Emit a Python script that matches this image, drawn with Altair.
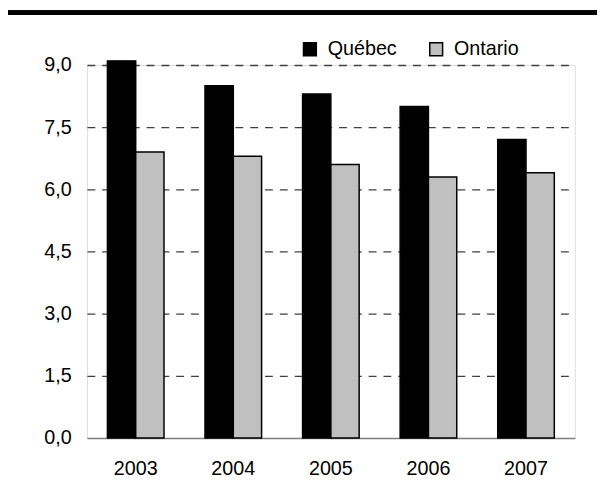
import altair as alt
import pandas as pd

years = ["2003", "2004", "2005", "2006", "2007"]
quebec = [9.1, 8.5, 8.3, 8.0, 7.2]
ontario = [6.9, 6.8, 6.6, 6.3, 6.4]
series = ["Québec", "Ontario"]
colors = ["#000000", "#c0c0c0"]
y_ticks = [0, 1.5, 3.0, 4.5, 6.0, 7.5, 9.0]

rows = []
for i, y in enumerate(years):
    rows.append({"year": y, "series": series[0], "value": quebec[i]})
    rows.append({"year": y, "series": series[1], "value": ontario[i]})
df = pd.DataFrame(rows)

FONT = "Liberation Sans"

bars = alt.Chart(df).mark_bar(stroke="black", strokeWidth=1.5).encode(
    x=alt.X(
        "year:N",
        sort=years,
        scale=alt.Scale(paddingInner=0.42, paddingOuter=0.21),
        axis=alt.Axis(
            title=None, labelAngle=0, ticks=False, domainColor="#808080",
            domainWidth=1.5, labelFontSize=20, labelPadding=21, labelColor="black",
            grid=False,
        ),
    ),
    xOffset=alt.XOffset("series:N", sort=series,
                        scale=alt.Scale(paddingInner=0, paddingOuter=0)),
    y=alt.Y(
        "value:Q",
        scale=alt.Scale(domain=[0, 9], nice=False),
        axis=alt.Axis(
            title=None, values=y_ticks, domain=False, ticks=False,
            labelExpr="replace(format(datum.value, '.1f'), '.', ',')",
            labelFontSize=20, labelPadding=16, labelColor="black",
            grid=True, gridColor="#404040", gridWidth=1.3, gridDash=[8, 7],
            gridOpacity={"condition": {"test": "datum.value === 0", "value": 0}, "value": 1},
        ),
    ),
    fill=alt.Fill(
        "series:N",
        sort=series,
        scale=alt.Scale(domain=series, range=colors),
        legend=alt.Legend(
            title=None, orient="none", legendX=216, legendY=-26,
            direction="horizontal", symbolType="square", symbolSize=169,
            symbolStrokeColor="black", symbolStrokeWidth=1.5,
            labelFontSize=20, labelOffset=8, columnPadding=29, padding=0,
            labelColor="black",
        ),
    ),
)

topline = alt.Chart(df).mark_rule(color="black", strokeWidth=4).encode(
    x=alt.value(-80), x2=alt.value(517), y=alt.value(-53)
)

chart = alt.layer(bars, topline).properties(
    width=494.5,
    height=378,
    padding={"left": 80, "top": 54.5, "right": 22.5, "bottom": 51.5},
    autosize=alt.AutoSizeParams(type="none"),
).configure_view(stroke=None).configure(font=FONT)

chart.save("out.html", embed_options={"renderer": "svg", "actions": False})
